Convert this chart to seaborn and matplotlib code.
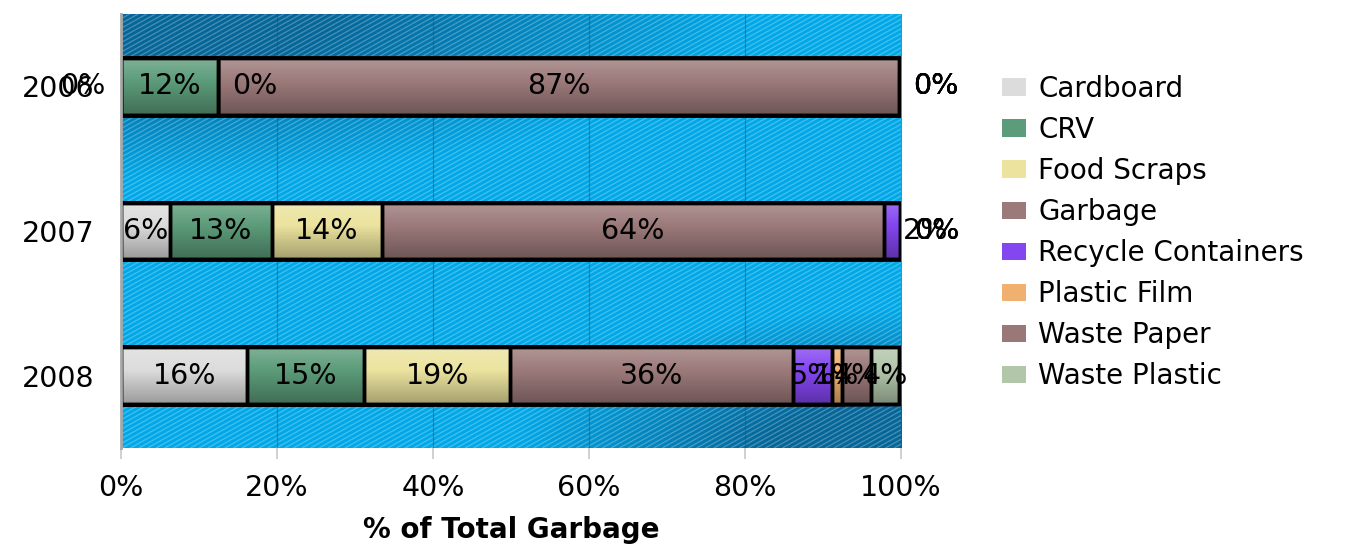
import numpy as np
import pandas as pd
import matplotlib
matplotlib.use("Agg")
import matplotlib.pyplot as plt
from matplotlib.collections import LineCollection
from matplotlib.patches import Patch, Rectangle
import seaborn as sns

years = ["2006", "2007", "2008"]
categories = ["Cardboard", "CRV", "Food Scraps", "Garbage",
              "Recycle Containers", "Plastic Film", "Waste Paper", "Waste Plastic"]
cardboard = [0.0, 6.3, 16.2]
crv = [12.4, 13.0, 15.0]
food_scraps = [0.0, 14.1, 18.7]
garbage = [87.4, 64.4, 36.2]
recycle_containers = [0.0, 2.1, 5.1]
plastic_film = [0.0, 0.0, 1.2]
waste_paper = [0.0, 0.0, 3.7]
waste_plastic = [0.0, 0.0, 3.7]
x_ticks = [0, 20, 40, 60, 80, 100]

colors = ["#dcdcdc", "#5c9c7a", "#ebe39e", "#9c7a7a",
          "#8446f0", "#f0b070", "#9a7878", "#b2c6aa"]


def main():
    sns.set_theme(style="white")
    plt.rcParams['font.family'] = ['DejaVu Sans']
    plt.rcParams['text.color'] = 'black'
    plt.rcParams['xtick.color'] = 'black'
    plt.rcParams['ytick.color'] = 'black'
    plt.rcParams['axes.labelcolor'] = 'black'

    df = pd.DataFrame(dict(zip(categories, [cardboard, crv, food_scraps, garbage,
                                            recycle_containers, plastic_film,
                                            waste_paper, waste_plastic])), index=years)
    cum = df.cumsum(axis=1)
    left = cum - df

    fig = plt.figure(figsize=(13.53, 5.47), dpi=100)
    ax = fig.add_axes([121 / 1353, 1 - 448 / 547, 780 / 1353, 434 / 547])

    # blue gradient background, dark at top-left and bottom-right corners
    u = np.linspace(0, 1, 400)
    v = np.linspace(0, 1, 220)
    U, V = np.meshgrid(u, v)
    d1 = np.hypot(U / 0.8, V / 0.38)
    d2 = np.hypot((1 - U) / 0.5, (1 - V) / 0.32)
    dark = np.clip(np.maximum(1 - d1, 1 - d2) * 1.5, 0, 1)
    bright_c = np.array([0.0, 0.66, 0.91])
    dark_c = np.array([0.02, 0.40, 0.60])
    bg = bright_c * (1 - dark[..., None]) + dark_c * dark[..., None]
    ax.imshow(bg, extent=(0, 1, 0, 1), transform=ax.transAxes, aspect='auto',
              origin='upper', zorder=0, interpolation='bilinear')

    # thin white diagonal stripes
    segs = [[(c, 0), (c + 1, 1)] for c in np.arange(-1.0, 1.0, 0.011)]
    lc = LineCollection(segs, colors='white', alpha=0.25, linewidths=1.0,
                        transform=ax.transAxes, zorder=0.5)
    ax.add_collection(lc)

    for t in x_ticks[1:-1]:
        ax.axvline(t, color='#075f80', alpha=0.5, lw=0.9, zorder=1)

    # shading for bars: light at top, darker at bottom
    t = np.linspace(0, 1, 64)
    grad = np.zeros((64, 1, 4))
    top = t < 0.4
    grad[top, 0, :3] = 1.0
    grad[top, 0, 3] = 0.22 * (1 - t[top] / 0.4)
    grad[~top, 0, 3] = 0.3 * (t[~top] - 0.4) / 0.6

    n = len(categories)
    for k in reversed(range(n)):
        n0 = len(ax.patches)
        sns.barplot(x=cum[categories[k]].values, y=years, orient='h',
                    color=colors[k], saturation=1, width=0.39, errorbar=None,
                    edgecolor='black', linewidth=2.5, ax=ax)
        z = 10 + 2 * (n - k)
        for p in list(ax.patches[n0:]):
            p.set_zorder(z)
            x0, y0, w, h = p.get_x(), p.get_y(), p.get_width(), p.get_height()
            if w <= 0:
                continue
            im = ax.imshow(grad, extent=(x0, x0 + w, y0 + h, y0), aspect='auto',
                           zorder=z + 0.5, interpolation='bilinear')
            im.set_clip_path(p)
            ax.add_patch(Rectangle((x0, y0), w, h, fill=False, ec='black',
                                   lw=2.5, zorder=z + 0.7))

    # segment labels
    for i, yr in enumerate(years):
        for k, cat in enumerate(categories):
            val = df.loc[yr, cat]
            l = left.loc[yr, cat]
            txt = f"{val:.0f}%"
            if val == 0 and l == 0:
                x, ha = -2.0, 'right'
            elif val == 0:
                x, ha = l + 1.8, 'left'
            elif val < 3 and l + val >= 99.5:
                x, ha = 100.2, 'left'
            else:
                x, ha = l + val / 2, 'center'
            ax.text(x, i, txt, ha=ha, va='center', fontsize=20.5, color='black',
                    zorder=40, clip_on=False)

    ax.set_xlim(0, 100)
    ax.set_ylim(2.5, -0.5)
    ax.set_xticks(x_ticks)
    ax.set_xticklabels([f"{t}%" for t in x_ticks])
    ax.tick_params(axis='x', length=8, color='#c8c8c8', width=1.2, pad=11,
                   labelsize=20.5, bottom=True, labelcolor='black')
    ax.tick_params(axis='y', length=0, pad=19, labelsize=20.5, labelcolor='black')
    ax.set_xlabel("% of Total Garbage", fontsize=20, fontweight='bold',
                  labelpad=10, color='black')
    ax.set_ylabel("")
    for s in ['top', 'right', 'bottom']:
        ax.spines[s].set_visible(False)
    ax.spines['left'].set_color('#a8a8a8')
    ax.spines['left'].set_linewidth(2)
    ax.spines['left'].set_zorder(50)

    handles = [Patch(facecolor=c, edgecolor='none') for c in colors]
    leg = fig.legend(handles, categories, loc='upper left',
                     bbox_to_anchor=(1002 / 1353, 1 - 75 / 547), frameon=False,
                     fontsize=20, borderpad=0, borderaxespad=0, handlelength=0.85,
                     handleheight=0.6, handletextpad=0.45, labelspacing=0.47)
    for txt in leg.get_texts():
        txt.set_color('black')

    fig.savefig("out.png", dpi=100)


if __name__ == "__main__":
    main()
